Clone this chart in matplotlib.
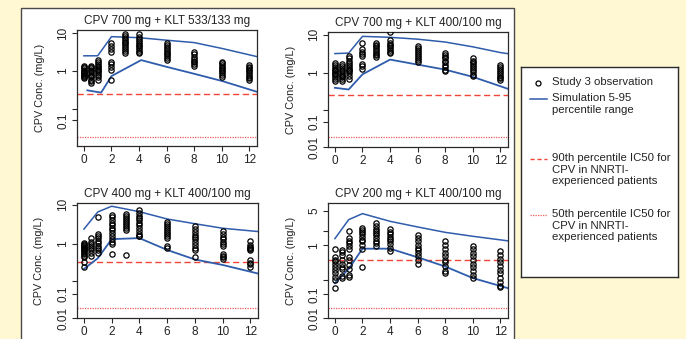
"""
CPV concentration-time profiles: study 3 observations vs simulated 5-95 percentile range
"""

import matplotlib
matplotlib.use('Agg')
import matplotlib.pyplot as plt
from matplotlib.patches import Rectangle

plt.rcParams['font.family'] = ['Liberation Sans', 'DejaVu Sans']

# sampling times of the observations (h)
obs_times = [0, 0.5, 1, 2, 3, 4, 6, 8, 10, 12]

titles = ['CPV 700 mg + KLT 533/133 mg', 'CPV 700 mg + KLT 400/100 mg',
          'CPV 400 mg + KLT 400/100 mg', 'CPV 200 mg + KLT 400/100 mg']

# observed concentrations (mg/L), one list per sampling time
obs_700_533 = [
    [1.4, 1.3, 1.2, 1.1, 1.0, 0.95, 0.9, 0.85, 0.8, 0.75, 0.7, 0.65],
    [1.4, 1.3, 1.2, 1.1, 1.0, 0.9, 0.8, 0.75, 0.7, 0.6, 0.55, 0.5],
    [1.95, 1.7, 1.5, 1.35, 1.25, 1.15, 1.05, 1.0, 0.9, 0.8, 0.7, 0.6],
    [5.4, 4.6, 3.9, 3.3, 1.8, 1.55, 1.3, 1.1, 0.58],
    [9.4, 8.5, 7.5, 6.6, 6.0, 5.4, 4.9, 4.3, 3.9, 3.4, 3.0],
    [9.4, 8.0, 7.0, 6.2, 5.5, 5.0, 4.5, 4.0, 3.6, 3.2, 3.0],
    [5.6, 5.0, 4.4, 3.9, 3.5, 3.1, 2.8, 2.5, 2.2, 1.95],
    [3.2, 2.8, 2.4, 2.1, 1.9, 1.7, 1.5, 1.35],
    [1.77, 1.6, 1.45, 1.3, 1.2, 1.1, 1.0, 0.9, 0.8, 0.68],
    [1.45, 1.3, 1.2, 1.1, 1.0, 0.9, 0.8, 0.72, 0.65, 0.6],
]
obs_700_400 = [
    [1.8, 1.6, 1.45, 1.3, 1.2, 1.1, 1.0, 0.95, 0.9, 0.8, 0.7, 0.62],
    [1.7, 1.5, 1.35, 1.2, 1.1, 1.0, 0.9, 0.85, 0.8, 0.7, 0.6],
    [2.7, 2.4, 2.1, 1.8, 1.6, 1.45, 1.3, 1.2, 1.1, 1.0, 0.85, 0.7],
    [6.1, 4.1, 3.6, 3.2, 2.8, 1.75, 1.5, 1.3],
    [6.1, 5.5, 5.0, 4.5, 4.0, 3.6, 3.2, 2.9, 2.6],
    [11.5, 7.1, 6.2, 5.5, 5.0, 4.5, 4.0, 3.6, 3.3],
    [5.1, 4.5, 4.0, 3.5, 3.1, 2.8, 2.5, 2.2, 1.9],
    [3.3, 2.9, 2.6, 2.4, 2.1, 1.9, 1.6, 1.4, 1.2, 1.1],
    [2.4, 2.1, 1.9, 1.7, 1.5, 1.35, 1.2, 1.05, 0.9, 0.82],
    [1.6, 1.4, 1.25, 1.1, 1.0, 0.9, 0.8, 0.72, 0.65],
]
obs_400_400 = [
    [1.08, 1.0, 0.95, 0.9, 0.85, 0.8, 0.75, 0.7, 0.65, 0.6, 0.55, 0.5, 0.46, 0.35, 0.25],
    [1.4, 1.1, 1.0, 0.9, 0.8, 0.7, 0.6, 0.5],
    [4.7, 1.77, 1.6, 1.4, 1.2, 1.05, 0.9, 0.8, 0.7, 0.58],
    [5.3, 4.7, 4.0, 3.5, 3.0, 2.6, 2.2, 1.9, 1.6, 1.3, 1.1, 1.0, 0.55],
    [5.9, 5.2, 4.6, 4.1, 3.6, 3.2, 2.8, 2.5, 2.3, 0.52],
    [7.4, 6.0, 5.2, 4.6, 4.0, 3.5, 3.0, 2.5, 2.1, 1.8, 1.6, 1.55],
    [3.7, 3.3, 2.9, 2.6, 2.3, 2.0, 1.8, 1.6, 1.4, 0.9, 0.8],
    [2.8, 2.4, 2.0, 1.7, 1.5, 1.3, 1.1, 0.95, 0.8, 0.7, 0.45],
    [2.1, 1.8, 1.5, 1.3, 1.1, 1.0, 0.9, 0.55, 0.5, 0.45, 0.4],
    [1.15, 0.95, 0.85, 0.8, 0.75, 0.7, 0.38, 0.33, 0.3, 0.25],
]
obs_200_400 = [
    [0.85, 0.58, 0.5, 0.47, 0.42, 0.37, 0.32, 0.27, 0.23, 0.2, 0.135],
    [0.79, 0.72, 0.65, 0.5, 0.42, 0.36, 0.33, 0.24, 0.22],
    [1.93, 1.4, 1.25, 1.1, 0.95, 0.85, 0.58, 0.5, 0.4, 0.33, 0.25, 0.23],
    [2.25, 2.1, 1.9, 1.7, 1.5, 1.3, 1.2, 1.0, 0.85, 0.36],
    [2.85, 2.5, 2.2, 2.0, 1.8, 1.6, 1.4, 1.25, 1.1, 0.97],
    [2.15, 1.9, 1.7, 1.5, 1.35, 1.2, 1.05, 0.9, 0.75],
    [1.65, 1.4, 1.2, 1.0, 0.9, 0.8, 0.7, 0.6, 0.5, 0.42],
    [1.25, 1.0, 0.85, 0.7, 0.6, 0.5, 0.45, 0.38, 0.3, 0.27],
    [0.98, 0.85, 0.7, 0.6, 0.5, 0.42, 0.36, 0.3, 0.25, 0.22],
    [0.78, 0.65, 0.52, 0.45, 0.38, 0.32, 0.27, 0.22, 0.18, 0.15, 0.14],
]

# simulated 95th / 5th percentile lines
hi_t_700_533 = [0, 1, 2, 4, 6, 8, 10, 12.6]
hi_700_533 = [2.55, 2.55, 8.2, 7.7, 6.6, 5.7, 4.0, 2.4]
lo_t_700_533 = [0.25, 1.25, 2, 4.15, 6, 8, 10, 12.6]
lo_700_533 = [0.31, 0.27, 0.74, 1.96, 1.3, 0.85, 0.55, 0.28]

hi_t_700_400 = [0, 1, 2, 4, 6, 8, 10, 12, 12.5]
hi_700_400 = [3.2, 3.3, 9.0, 8.5, 7.6, 6.4, 4.8, 3.4, 3.2]
lo_t_700_400 = [0, 1, 2, 4, 6, 8, 10, 12, 12.5]
lo_700_400 = [0.41, 0.37, 0.92, 2.23, 1.65, 1.22, 0.79, 0.45, 0.39]

hi_t_400_400 = [0, 1, 2, 4, 6, 8, 10, 12.5]
hi_400_400 = [2.38, 6.5, 9.1, 6.6, 4.3, 3.26, 2.5, 2.07]
lo_t_400_400 = [0, 1, 2, 4, 6, 8, 10, 12.5]
lo_400_400 = [0.23, 0.43, 1.32, 1.4, 0.70, 0.40, 0.29, 0.177]

hi_t_200_400 = [0, 1, 2, 4, 6, 8, 10, 12.5]
hi_200_400 = [1.37, 3.34, 4.43, 3.09, 2.37, 1.84, 1.53, 1.24]
lo_t_200_400 = [0, 1, 2, 4, 6, 8, 10, 12.5]
lo_200_400 = [0.17, 0.33, 0.855, 0.855, 0.57, 0.37, 0.215, 0.135]

# IC50 reference levels as drawn in each panel
ic50_90 = [0.245, 0.27, 0.34, 0.51]
ic50_50 = [0.018, 0.0214, 0.023, 0.053]

x_ticks = [0, 2, 4, 6, 8, 10, 12]

BG = '#fff8d3'
BLUE = '#2f5cab'
DASH_RED = '#f0463a'
DOT_RED = '#ec5a5a'
INK = '#2a2a2a'

W, H = 686, 339


def px_rect(x0, y0, x1, y1):
    # pixel box (top-left origin) -> figure fraction rect
    return [x0 / W, 1 - y1 / H, (x1 - x0) / W, (y1 - y0) / H]


fig = plt.figure(figsize=(W / 100, H / 100), dpi=100, facecolor=BG)
fig.patches.append(Rectangle((21 / W, -0.05), (514 - 21) / W, 1.05 - 8 / H,
                             transform=fig.transFigure, facecolor='white',
                             edgecolor='#4a4a4a', lw=1.0, zorder=-10))

boxes = [(77, 30, 257, 146), (328, 32, 508, 147), (77, 203, 258, 318), (328, 203, 508, 318)]
ylims = [(0.0104, 12.3), (0.0117, 11.7), (0.0129, 11.0), (0.033, 7.3)]
yticks = [[10, 1, 0.1, 0.05],
          [10, 1, 0.107, 0.053, 0.0117],
          [10, 1, 0.113, 0.054, 0.0129],
          [5, 2, 1, 0.2, 0.1, 0.033]]
ylabels = [['10', '1', '', '0.1'],
           ['10', '1', '', '0.1', '0.01'],
           ['10', '1', '', '0.1', '0.01'],
           ['5', '', '1', '', '0.1', '0.01']]

observations = [obs_700_533, obs_700_400, obs_400_400, obs_200_400]
his = [(hi_t_700_533, hi_700_533), (hi_t_700_400, hi_700_400),
       (hi_t_400_400, hi_400_400), (hi_t_200_400, hi_200_400)]
los = [(lo_t_700_533, lo_700_533), (lo_t_700_400, lo_700_400),
       (lo_t_400_400, lo_400_400), (lo_t_200_400, lo_200_400)]

for i in range(4):
    ax = fig.add_axes(px_rect(*boxes[i]))
    ax.set_yscale('log')
    ax.set_xlim(-0.5, 12.55)
    ax.set_ylim(*ylims[i])

    ax.axhline(ic50_90[i], color=DASH_RED, lw=1.0, ls=(0, (4.5, 2.5)), zorder=1)
    ax.axhline(ic50_50[i], color=DOT_RED, lw=0.9, ls=(0, (1, 1)), zorder=1)

    for t, vals in zip(obs_times, observations[i]):
        ax.plot([t] * len(vals), vals, 'o', mfc='none', mec='black',
                ms=3.8, mew=0.9, ls='none', zorder=3)

    ax.plot(*his[i], color=BLUE, lw=1.1, zorder=2, clip_on=True)
    ax.plot(*los[i], color=BLUE, lw=1.3, zorder=2, clip_on=True)

    ax.set_title(titles[i], fontsize=8.5, pad=4, color='#222222')
    ax.set_xticks(x_ticks)
    ax.set_xticklabels([str(x) for x in x_ticks])
    ax.minorticks_off()
    ax.set_yticks(yticks[i])
    ax.set_yticklabels(ylabels[i])
    ax.tick_params(direction='out', length=3.5, width=0.8, color=INK,
                   labelsize=8.5, labelcolor='#222222', pad=2)
    ax.tick_params(axis='y', labelrotation=90)
    for lbl in ax.get_yticklabels():
        lbl.set_va('center')
    for sp in ax.spines.values():
        sp.set_color(INK)
        sp.set_linewidth(0.9)
    ax.set_ylabel('CPV Conc. (mg/L)', fontsize=7.8, color='#222222')
    ax.yaxis.set_label_coords(-0.18, 0.5)

# legend box, drawn in pixel units
leg = fig.add_axes(px_rect(521, 67, 678, 277))
leg.set_xlim(0, 157)
leg.set_ylim(210, 0)
leg.set_xticks([])
leg.set_yticks([])
for sp in leg.spines.values():
    sp.set_color(INK)
    sp.set_linewidth(1.0)

leg.plot([17], [16], 'o', mfc='none', mec='black', ms=3.6, mew=0.9)
leg.plot([9, 26], [32, 32], color=BLUE, lw=1.1)
leg.plot([9, 26], [92, 92], color=DASH_RED, lw=1.0, ls=(0, (3, 2)))
leg.plot([9, 26], [148, 148], color=DOT_RED, lw=0.9, ls=(0, (1, 1)))

entries = [(16, 'Study 3 observation'),
           (32, 'Simulation 5-95\npercentile range'),
           (92, '90th percentile IC50 for\nCPV in NNRTI-\nexperienced patients'),
           (148, '50th percentile IC50 for\nCPV in NNRTI-\nexperienced patients')]
for y, txt in entries:
    leg.text(31, y - 6, txt, fontsize=8.2, va='top', ha='left',
             linespacing=1.2, color='#222222')

fig.savefig('out.png', dpi=100, facecolor=BG)
